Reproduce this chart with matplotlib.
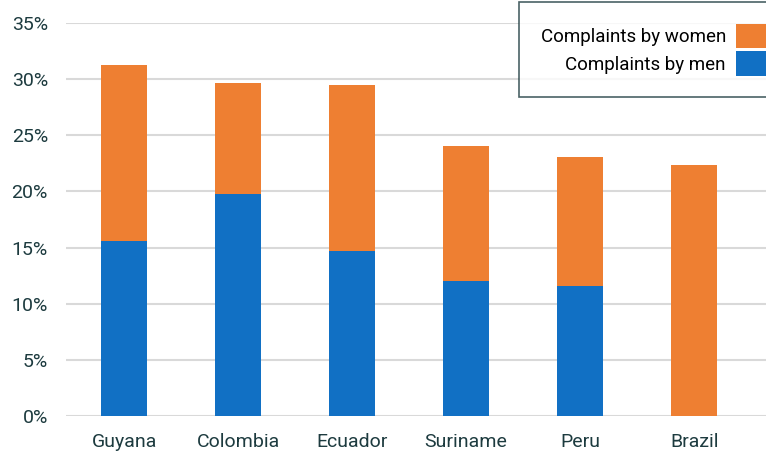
import matplotlib.pyplot as plt
import numpy as np

plt.rcParams['font.family'] = ['Roboto', 'DejaVu Sans']

countries = ['Guyana', 'Colombia', 'Ecuador', 'Suriname', 'Peru', 'Brazil']
men = [15.6, 19.8, 14.7, 12.0, 11.6, 0.0]
women = [15.7, 9.85, 14.8, 12.05, 11.5, 22.35]

blue = '#1170c4'
orange = '#ee7f32'
txt = '#1d3b3f'

fig = plt.figure(figsize=(7.66, 4.51), dpi=100)
ax = fig.add_axes([66 / 766, 35 / 451, 700 / 766, 393 / 451])

x = np.arange(len(countries))
ax.bar(x, men, width=0.4, color=blue, label='Complaints by men', zorder=3)
ax.bar(x, women, width=0.4, bottom=men, color=orange, label='Complaints by women', zorder=3)

ax.set_ylim(0, 35)
ax.set_xlim(-0.51, 5.63)
ax.set_yticks(range(0, 36, 5))
ax.set_yticklabels([f'{v}%' for v in range(0, 36, 5)])
ax.set_xticks(x)
ax.set_xticklabels(countries)
ax.grid(axis='y', color='#d9d9d9', linewidth=1.5, zorder=0)
for s in ax.spines.values():
    s.set_visible(False)
ax.tick_params(length=0, labelsize=14, colors=txt)
ax.tick_params(axis='y', pad=13)
ax.tick_params(axis='x', pad=12)

h, l = ax.get_legend_handles_labels()
leg = fig.legend(h[::-1], l[::-1], loc='upper left', bbox_to_anchor=(519 / 766, 1 - 2 / 451),
                 markerfirst=False, fontsize=13.5, frameon=True, fancybox=False,
                 edgecolor=txt, handlelength=2.5, handleheight=1.6, labelspacing=0.2,
                 borderpad=1.15, handletextpad=0.55, borderaxespad=0)
leg.get_frame().set_linewidth(1.2)

plt.savefig('out.png', dpi=100)
